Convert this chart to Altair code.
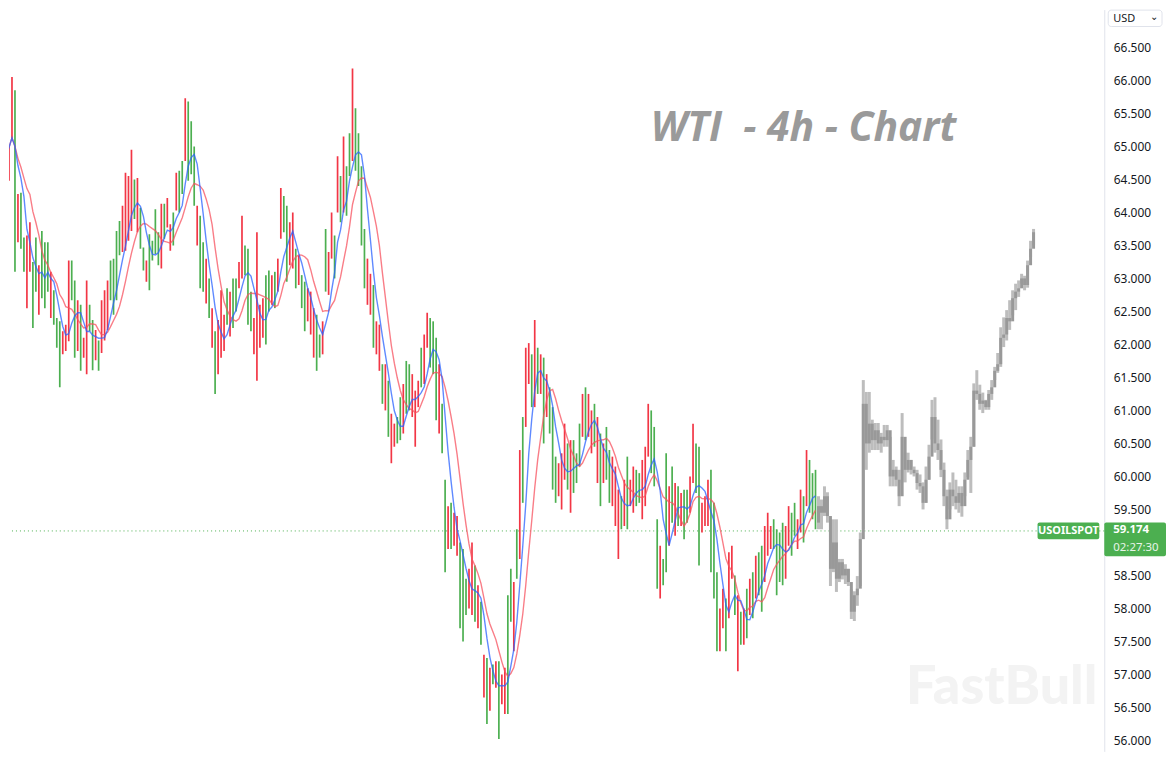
import altair as alt
import pandas as pd

# ---- colored 4h bars (USOILSPOT) ----
bar_high = [
    65.82, 65.20, 65.00, 66.05, 65.85, 64.28, 64.30, 63.62, 63.65, 63.85,
    63.25, 63.62, 63.20, 63.72, 63.55, 63.55, 63.10, 62.82, 62.40, 62.35,
    62.20, 62.30, 63.27, 63.27, 62.97, 62.67, 62.60, 62.10, 62.97, 62.60,
    62.37, 62.22, 62.06, 62.67, 62.82, 62.97, 63.27, 63.30, 63.72, 63.87,
    64.10, 64.60, 64.55, 64.95, 64.50, 64.52, 64.07, 63.47, 63.27, 63.67,
    63.57, 64.05, 63.70, 64.13, 64.13, 64.22, 63.82, 64.00, 64.60, 64.63,
    64.78, 65.73, 65.68, 65.38, 65.00, 64.10, 63.95, 63.55, 63.30, 63.00,
    62.55, 62.20, 62.37, 62.82, 62.45, 62.85, 62.80, 63.00, 63.00, 63.25,
    63.95, 63.50, 63.45, 62.80, 62.40, 63.70, 62.60, 62.70, 63.05, 63.12,
    63.05, 63.10, 63.30, 64.37, 64.25, 64.10, 63.85, 64.00, 63.45, 63.35,
    63.05, 62.95, 62.85, 62.80, 62.55, 62.45, 62.15, 62.35, 63.75, 63.40,
    64.00, 63.65, 64.85, 64.55, 65.15, 64.70, 65.20, 66.18, 65.58, 65.20,
    64.70, 63.75, 63.30, 63.07, 62.90, 62.35, 62.30, 61.70, 61.70, 61.45,
    60.95, 60.80, 60.90, 61.20, 61.40, 61.75, 61.70, 61.55, 61.30, 61.45,
    61.95, 62.15, 62.48, 62.40, 62.35, 62.10, 61.70, 61.10, 59.95, 59.55,
    59.60, 59.45, 59.40, 59.00, 58.90, 58.45, 58.60, 59.00, 58.65, 58.35,
    58.10, 57.30, 57.25, 57.10, 57.15, 57.20, 57.20, 57.00, 57.10, 58.20,
    58.60, 58.40, 59.20, 60.40, 60.90, 61.95, 62.02, 61.85, 62.37, 61.95,
    61.85, 61.80, 61.55, 61.35, 61.05, 60.30, 60.20, 60.35, 60.80, 60.50,
    60.55, 60.55, 60.35, 60.80, 61.25, 61.35, 61.25, 61.00, 61.10, 60.90,
    60.65, 60.50, 60.75, 60.40, 60.30, 60.15, 59.80, 59.70, 59.95, 60.30,
    59.95, 60.15, 60.10, 60.05, 60.25, 60.45, 61.10, 61.00, 60.75, 59.35,
    58.95, 58.75, 60.35, 59.85, 60.15, 59.90, 59.85, 59.75, 59.80, 59.80,
    60.00, 60.80, 60.50, 60.45, 59.60, 59.70, 59.95, 60.10, 59.60, 58.55,
    58.00, 58.30, 58.15, 58.85, 58.95, 58.50, 58.20, 57.95, 58.00, 58.30,
    58.45, 58.55, 58.80, 58.85, 58.95, 59.25, 59.45, 59.25, 59.35, 59.20,
    59.15, 59.30, 59.25, 59.55, 59.45, 59.60, 59.35, 59.80, 59.70, 60.40,
    60.25, 60.05, 60.10,
]
bar_low = [
    64.90, 64.50, 64.48, 65.10, 63.10, 63.55, 63.45, 63.10, 62.55, 63.10,
    62.25, 62.80, 62.45, 62.70, 62.55, 62.80, 62.40, 62.30, 61.95, 61.35,
    61.85, 61.90, 62.05, 62.67, 61.80, 61.90, 61.60, 61.80, 61.55, 62.20,
    61.61, 61.76, 61.60, 61.87, 62.06, 62.22, 62.67, 62.45, 62.67, 63.35,
    63.40, 63.42, 63.57, 63.72, 63.90, 63.70, 63.45, 63.12, 62.95, 62.82,
    63.27, 63.37, 63.20, 63.15, 63.60, 63.77, 63.42, 63.50, 64.03, 64.00,
    64.28, 64.78, 64.48, 64.58, 64.10, 63.50, 62.85, 62.80, 62.62, 62.40,
    61.95, 61.25, 61.55, 61.80, 61.90, 62.30, 62.12, 62.25, 62.50, 62.85,
    63.00, 63.05, 62.30, 62.20, 61.85, 61.45, 61.95, 62.10, 62.00, 62.50,
    62.60, 62.55, 62.80, 63.60, 63.70, 62.95, 63.20, 63.15, 62.85, 62.90,
    62.55, 62.20, 62.35, 62.15, 61.80, 61.60, 61.80, 61.85, 62.80, 62.75,
    63.30, 63.00, 64.00, 63.85, 64.00, 63.95, 64.55, 64.78, 64.63, 64.40,
    63.50, 62.85, 62.60, 62.45, 61.95, 61.85, 61.60, 61.10, 61.00, 60.60,
    60.20, 60.45, 60.50, 60.55, 60.65, 60.95, 61.00, 60.90, 60.45, 61.05,
    61.35, 61.40, 61.95, 61.65, 61.55, 60.85, 60.65, 60.35, 58.55, 58.90,
    58.90, 58.95, 58.80, 57.70, 57.50, 57.90, 58.00, 57.90, 57.80, 57.70,
    57.45, 56.65, 56.25, 56.45, 56.85, 56.80, 56.02, 56.55, 56.40, 56.40,
    57.80, 57.35, 58.45, 58.75, 59.60, 60.75, 61.40, 61.05, 61.05, 61.25,
    61.25, 60.50, 60.90, 60.65, 59.80, 59.60, 59.70, 59.50, 59.95, 59.80,
    59.45, 59.75, 59.90, 60.15, 60.60, 60.55, 60.60, 60.35, 60.45, 59.90,
    59.55, 59.90, 59.95, 59.60, 59.55, 59.25, 58.75, 59.20, 59.25, 59.20,
    59.55, 59.45, 59.55, 59.60, 59.35, 59.55, 60.30, 60.05, 59.85, 58.30,
    58.15, 58.35, 58.55, 58.95, 59.30, 59.10, 59.25, 59.25, 59.05, 59.30,
    59.45, 59.90, 59.75, 58.65, 59.15, 59.25, 59.25, 58.55, 58.15, 57.35,
    57.35, 57.70, 57.35, 57.85, 58.45, 57.90, 57.05, 57.45, 57.45, 57.55,
    57.90, 57.85, 58.15, 58.20, 57.95, 58.40, 58.80, 58.90, 58.90, 58.20,
    58.40, 58.35, 58.45, 58.95, 58.80, 59.10, 58.90, 59.15, 59.00, 59.55,
    59.45, 59.35, 59.20,
]
# u = up bar (green), d = down bar (red)
bar_dir = (
    "dudduduudd uuduuuduuu ddduududdu ududdduuuu dddduduudu "
    "uuududdudu uduuuduudu duddduduud duuudddduu dudduuddud "
    "uuddduudud dududuuduu uudduddudu dduuduuddd udduuuduud "
    "udduuuddud ududududdu udududdudu duduuudddu duuududdud "
    "uduudddudu dduuddduuu duudududuu dduuddduuu dduddududu "
    "duduuddduu uudduudduduuu"
).replace(" ", "")

# ---- grey projected path ----
proj_high = [
    59.70, 59.65, 59.85, 59.76, 59.35, 59.35, 59.35, 58.75, 58.75, 58.67,
    58.60, 58.29, 58.26, 58.49, 59.15, 61.46, 61.28, 61.28, 60.86, 60.81,
    60.81, 60.66, 60.78, 60.78, 60.60, 60.25, 60.15, 60.10, 60.96, 60.36,
    60.36, 60.25, 60.15, 60.10, 60.03, 59.91, 60.15, 60.48, 61.16, 61.20,
    60.86, 60.56, 60.21, 59.80, 59.91, 60.06, 59.95, 59.85, 59.85, 60.06,
    60.40, 60.60, 61.41, 61.61, 61.39, 61.27, 61.16, 61.31, 61.46, 61.66,
    61.87, 62.26, 62.41, 62.52, 62.67, 62.82, 62.92, 62.97, 63.07, 63.04,
    63.27, 63.57, 63.75,
]
proj_low = [
    59.20, 59.20, 59.40, 59.30, 58.34, 58.55, 58.25, 58.40, 58.44, 58.37,
    58.34, 57.84, 57.81, 58.04, 58.34, 59.20, 60.10, 60.36, 60.40, 60.40,
    60.40, 60.36, 60.45, 60.45, 59.85, 59.85, 59.85, 59.55, 59.91, 59.91,
    60.06, 60.03, 60.00, 59.80, 59.75, 59.50, 59.60, 59.95, 60.56, 60.36,
    60.25, 59.99, 59.55, 59.20, 59.50, 59.55, 59.50, 59.45, 59.39, 59.70,
    59.99, 59.75, 60.45, 61.16, 61.01, 60.96, 61.01, 61.01, 61.16, 61.46,
    61.57, 61.66, 61.96, 62.06, 62.22, 62.44, 62.52, 62.72, 62.92, 62.82,
    62.86, 63.32, 63.50,
]
proj_close = [
    59.55, 59.45, 59.70, 59.40, 58.60, 59.00, 58.45, 58.70, 58.50, 58.60,
    58.40, 57.95, 58.20, 58.30, 59.05, 61.10, 60.50, 60.80, 60.55, 60.70,
    60.50, 60.60, 60.55, 60.70, 60.00, 60.10, 59.95, 59.70, 60.60, 60.10,
    60.25, 60.10, 60.05, 59.90, 59.85, 59.60, 59.95, 60.30, 60.90, 60.50,
    60.40, 60.10, 59.70, 59.35, 59.80, 59.70, 59.60, 59.75, 59.55, 59.95,
    60.25, 60.45, 61.30, 61.25, 61.10, 61.15, 61.05, 61.25, 61.35, 61.60,
    61.70, 62.10, 62.15, 62.40, 62.35, 62.70, 62.80, 62.85, 63.00, 62.90,
    63.20, 63.45, 63.70,
]
proj_first_open = 59.30

# 59.000 sits under the last-price tag in the reference, so it is not listed
y_ticks = [56.0, 56.5, 57.0, 57.5, 58.0, 58.5, 59.5, 60.0, 60.5, 61.0,
           61.5, 62.0, 62.5, 63.0, 63.5, 64.0, 64.5, 65.0, 65.5, 66.0, 66.5]
last_price = 59.174
last_price_text = "59.174"
countdown_text = "02:27:30"
symbol_text = "USOILSPOT"
currency_text = "USD"
title_text = "WTI \u00a0- 4h - Chart"
watermark_text = "FastBull"

GREEN = "#4caf50"
RED = "#f23645"

n = len(bar_high)
bars = pd.DataFrame({"i": list(range(n)), "h": bar_high, "l": bar_low,
                     "d": list(bar_dir)})
m = len(proj_high)
proj = pd.DataFrame({"i": list(range(n, n + m)), "h": proj_high,
                     "l": proj_low, "c": proj_close})
proj["o"] = [proj_first_open] + proj_close[:-1]

xs = alt.Scale(domain=[2, 368.67], nice=False, zero=False)
ys = alt.Scale(domain=[55.834, 67.073], nice=False, zero=False)
X = alt.X("i:Q", scale=xs, axis=None)
YAX = alt.Axis(orient="right", values=y_ticks, format=".3f",
               grid=False, ticks=False, tickSize=0,
               labelOverlap=False, labelBound=False, labelFlush=False,
               labelPadding=9, labelFont="Noto Sans",
               labelFontSize=12, labelColor="#131722",
               domainColor="#e0e3eb", title=None)


def Y(field):
    return alt.Y(field, scale=ys, axis=YAX)


base_bars = alt.Chart(bars)

price_rule = alt.Chart(pd.DataFrame({"p": [last_price]})).mark_rule(
    color=GREEN, strokeDash=[1, 3], strokeWidth=1
).encode(y=Y("p:Q"))

bar_marks = base_bars.mark_rule(strokeWidth=1.7, clip=True).encode(
    x=X,
    y=Y("h:Q"),
    y2="l:Q",
    color=alt.Color("d:N", scale=alt.Scale(domain=["u", "d"], range=[GREEN, RED]),
                    legend=None),
)

ma = base_bars.transform_calculate(mid="(datum.h + datum.l) / 2")
ma_fast = ma.transform_window(
    v="mean(mid)", frame=[-4, 0], sort=[alt.SortField("i")]
).mark_line(color="#2962ff", strokeWidth=1.4, opacity=0.75, clip=True).encode(
    x=X, y=Y("v:Q"))
ma_slow = ma.transform_window(
    v="mean(mid)", frame=[-9, 0], sort=[alt.SortField("i")]
).mark_line(color="#f7525f", strokeWidth=1.4, opacity=0.75, clip=True).encode(
    x=X, y=Y("v:Q"))

proj_range = alt.Chart(proj).mark_rule(strokeWidth=3, color="#bdbdbd").encode(
    x=X, y=Y("h:Q"), y2="l:Q")
proj_body = alt.Chart(proj).mark_rule(strokeWidth=3, color="#999999").encode(
    x=X, y=Y("o:Q"), y2="c:Q")

one = lambda t: pd.DataFrame({"t": [t]})

title = alt.Chart(one(title_text)).mark_text(
    font="Open Sans", fontSize=41, fontStyle="italic", fontWeight="bold",
    color="#9a9a9a", align="center", baseline="alphabetic"
).encode(text="t:N", x=alt.value(798), y=alt.value(132))

watermark = alt.Chart(one(watermark_text)).mark_text(
    font="Lato", fontSize=54, fontWeight=900, color="#f3f3f3",
    align="center", baseline="alphabetic"
).encode(text="t:N", x=alt.value(997), y=alt.value(697))

sym_box = alt.Chart(one(symbol_text)).mark_rect(
    color=GREEN, cornerRadius=2
).encode(x=alt.value(1033), x2=alt.value(1095), y=alt.value(515), y2=alt.value(532))
sym_text = alt.Chart(one(symbol_text)).mark_text(
    font="Noto Sans", fontSize=11, fontWeight="bold", color="white",
    align="center", baseline="middle"
).encode(text="t:N", x=alt.value(1064), y=alt.value(524))

px_box = alt.Chart(one(last_price_text)).mark_rect(
    color=GREEN, cornerRadius=2
).encode(x=alt.value(1100), x2=alt.value(1162), y=alt.value(515), y2=alt.value(549))
px_text = alt.Chart(one(last_price_text)).mark_text(
    font="Noto Sans", fontSize=11.5, fontWeight="bold", color="white",
    align="left", baseline="middle"
).encode(text="t:N", x=alt.value(1109), y=alt.value(523))
cd_text = alt.Chart(one(countdown_text)).mark_text(
    font="Noto Sans", fontSize=11.5, color="#e8f5e9",
    align="left", baseline="middle"
).encode(text="t:N", x=alt.value(1109), y=alt.value(541))

usd_box = alt.Chart(one(currency_text)).mark_rect(
    fill="white", stroke="#e0e3eb", strokeWidth=1, cornerRadius=3
).encode(x=alt.value(1104), x2=alt.value(1158), y=alt.value(0.5), y2=alt.value(17))
usd_text = alt.Chart(one(currency_text)).mark_text(
    font="Noto Sans", fontSize=11, color="#131722", align="left", baseline="middle"
).encode(text="t:N", x=alt.value(1109), y=alt.value(9))
usd_chev = alt.Chart(one("⌄")).mark_text(
    font="DejaVu Sans", fontSize=10, color="#131722", align="center", baseline="middle"
).encode(text="t:N", x=alt.value(1150), y=alt.value(7))

chart = alt.layer(
    price_rule, watermark, title, bar_marks, ma_slow, ma_fast,
    proj_range, proj_body, sym_box, sym_text, px_box, px_text, cd_text,
    usd_box, usd_text, usd_chev,
).properties(
    width=1100, height=745, padding=0, background="white"
).configure_view(stroke=None)

chart.save("out.html", embed_options={"renderer": "svg", "actions": False})
